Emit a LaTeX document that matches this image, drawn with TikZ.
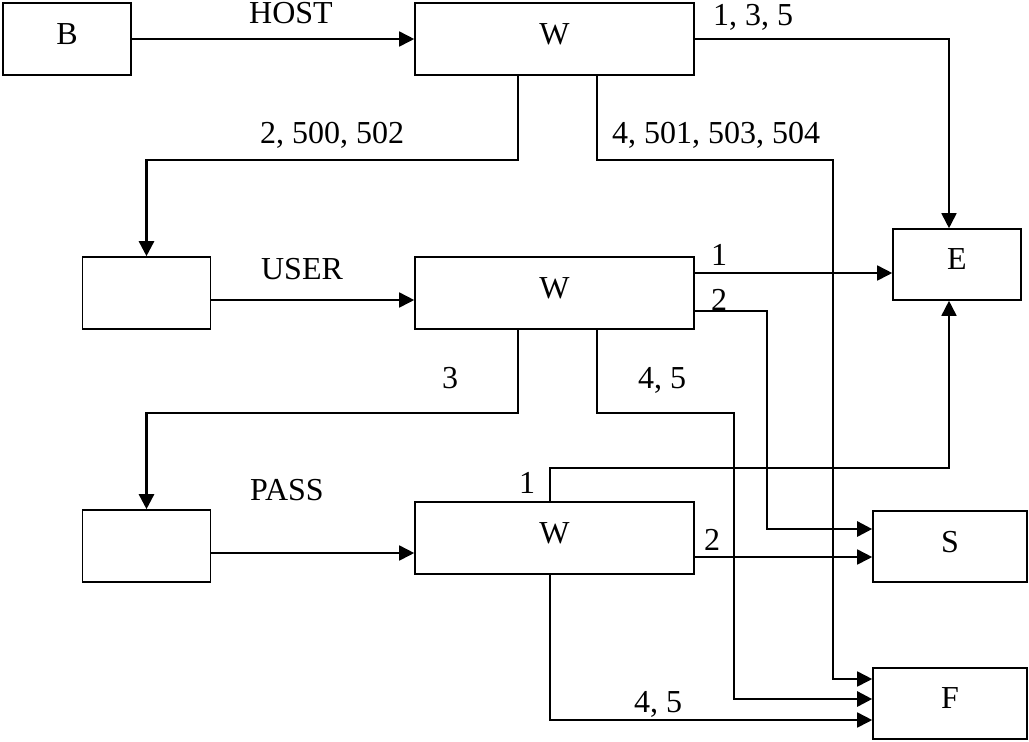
\documentclass[tikz,border=0pt]{standalone}
\usepackage{fontspec}
\setmainfont{Liberation Serif}
\usetikzlibrary{arrows.meta}

\begin{document}
\begin{tikzpicture}[
      x=0.5pt, y=-0.5pt,
      font=\fontsize{16}{19}\selectfont,
      box/.style={rectangle, draw, line width=0.8pt, minimum width=64pt, minimum height=36pt, inner sep=0pt, text depth=5pt},
      wbox/.style={box, minimum width=139.5pt},
      sink/.style={box, minimum width=77pt, minimum height=35.5pt},
      wire/.style={draw, line width=0.85pt, -{Triangle[length=7.5pt,width=7.5pt]}},
      thickwire/.style={wire, line width=1.3pt},
      lbl/.style={inner sep=0pt, text depth=0pt},
    ]
    \useasboundingbox (0,0) rectangle (1029,741);
    % boxes
    \node[box] (b) at (67,39) {B};
    \node[wbox] (w1) at (554.5,39) {W};
    \node[box] (usr) at (146.5,293) {};
    \node[wbox] (w2) at (554.5,293) {W};
    \node[box] (pas) at (146.5,546) {};
    \node[wbox] (w3) at (554.5,538) {W};
    \node[box, minimum height=35.5pt] (e) at (957,264.5) {E};
    \node[sink] (s) at (950,546.5) {S};
    \node[sink] (f) at (950,703.5) {F};
    % labels
    \node[lbl] at (291,13) {HOST};
    \node[lbl] at (753,15) {1, 3, 5};
    \node[lbl] at (332,133) {2, 500, 502};
    \node[lbl] at (716,133) {4, 501, 503, 504};
    \node[lbl] at (302,269) {USER};
    \node[lbl] at (719,255) {1};
    \node[lbl] at (719,300) {2};
    \node[lbl] at (450,378) {3};
    \node[lbl] at (662,378) {4, 5};
    \node[lbl] at (287,490) {PASS};
    \node[lbl] at (527,483) {1};
    \node[lbl] at (712,540) {2};
    \node[lbl] at (658,702) {4, 5};
    % connectors
    \draw[wire] (b) -- (w1);
    \draw[wire] (w1.east) -| ([xshift=-4pt]e.north);
    \draw[thickwire] ([xshift=-18.25pt]w1.south) -- ++(0,84) -| (usr.north);
    \draw[wire] ([xshift=21.25pt]w1.south) -- ++(0,84) -- ++(236,0) |- ([yshift=12.25pt]f.west);
    \draw[wire] ([yshift=-3.5pt]usr.east) -- ([yshift=-3.5pt]w2.west);
    \draw[wire] ([yshift=10pt]w2.east) -- ([yshift=10pt]w2.east -| e.west);
    \draw[thickwire] ([yshift=-9pt]w2.east) -- ++(72,0) |- ([yshift=8.75pt]s.west);
    \draw[thickwire] ([xshift=-18.25pt]w2.south) -- ++(0,83) -| (pas.north);
    \draw[thickwire] ([xshift=21.25pt]w2.south) -- ++(0,83) -- ++(137,0) |- ([yshift=2.25pt]f.west);
    \draw[wire] ([yshift=-3.5pt]pas.east) -- ([yshift=-3.5pt]pas.east -| w3.west);
    \draw[wire] ([xshift=-2.25pt]w3.north) -- ++(0,-33) -| ([xshift=-4pt]e.south);
    \draw[wire] ([yshift=-9.5pt]w3.east) -- ([yshift=-9.5pt]w3.east -| s.west);
    \draw[wire] ([xshift=-2.25pt]w3.south) |- ([yshift=-8.25pt]f.west);
  \end{tikzpicture}
\end{document}
